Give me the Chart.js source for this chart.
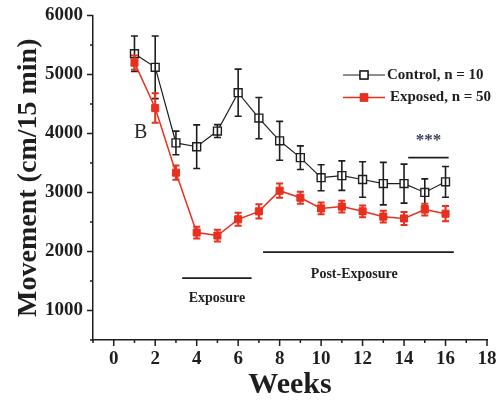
<!DOCTYPE html>
<html>
<head>
<meta charset="utf-8">
<script src="https://cdn.jsdelivr.net/npm/chart.js@4/dist/chart.umd.min.js"></script>
<style>
  html, body { margin: 0; padding: 0; background: #ffffff; }
  #wrap { width: 504px; height: 400px; position: relative; }
</style>
</head>
<body>
<div id="wrap"><canvas id="c" width="504" height="400"></canvas></div>
<script>
// ---- data ----
const weeks = [1, 2, 3, 4, 5, 6, 7, 8, 9, 10, 11, 12, 13, 14, 15, 16];
const controlMean = [5350, 5120, 3840, 3775, 4040, 4690, 4260, 3875, 3590, 3250, 3285, 3220, 3150, 3150, 3000, 3180];
const controlErr  = [300, 530, 200, 370, 110, 400, 350, 330, 200, 220, 250, 300, 360, 330, 230, 260];
const exposedMean = [5200, 4430, 3335, 2320, 2270, 2545, 2680, 3030, 2910, 2730, 2760, 2680, 2590, 2560, 2710, 2640];
const exposedErr  = [120, 250, 120, 100, 100, 110, 120, 120, 100, 100, 100, 100, 100, 110, 100, 130];
const seriesLabels = ['Control, n = 10', 'Exposed, n = 50'];
const xTickLabels = [0, 2, 4, 6, 8, 10, 12, 14, 16, 18];
const yTickLabels = [1000, 2000, 3000, 4000, 5000, 6000];
const xTitle = 'Weeks';
const yTitle = 'Movement (cm/15 min)';
const exposurePeriod = [3.3, 6.65];      // weeks spanned by the "Exposure" bar
const postExposurePeriod = [7.2, 16.4];  // weeks spanned by the "Post-Exposure" bar
const sigPeriod = [14.2, 16.15];         // weeks spanned by the *** bar

const SERIF = '"Liberation Serif", "Times New Roman", serif';
const INK = '#1e1e1e';
const RED = '#e8301f';

function toPoints(xs, ys) { return xs.map((x, i) => ({ x: x, y: ys[i] })); }

// error bars, drawn right after their own dataset
const errorBarPlugin = {
  id: 'errorBars',
  afterDatasetDraw(chart, args) {
    const ds = chart.data.datasets[args.index];
    if (!ds.errors) return;
    const { ctx, scales: { x, y } } = chart;
    ctx.save();
    ctx.strokeStyle = ds.borderColor;
    ctx.lineWidth = ds.errorWidth;
    ds.data.forEach((p, i) => {
      const px = x.getPixelForValue(p.x);
      const yt = y.getPixelForValue(p.y + ds.errors[i]);
      const yb = y.getPixelForValue(p.y - ds.errors[i]);
      const cap = 3.5;
      ctx.beginPath();
      ctx.moveTo(px, yt); ctx.lineTo(px, yb);
      ctx.moveTo(px - cap, yt); ctx.lineTo(px + cap, yt);
      ctx.moveTo(px - cap, yb); ctx.lineTo(px + cap, yb);
      ctx.stroke();
    });
    ctx.restore();
  }
};

// major + minor tick marks on both axes
const tickPlugin = {
  id: 'tickMarks',
  afterDraw(chart) {
    const { ctx, scales: { x, y }, chartArea } = chart;
    ctx.save();
    ctx.strokeStyle = INK;
    ctx.lineWidth = 1.5;
    ctx.beginPath();
    for (let v = -1; v <= 18; v += 1) {
      const px = x.getPixelForValue(v);
      const len = (v % 2 === 0) ? 6 : 3;
      ctx.moveTo(px, chartArea.bottom); ctx.lineTo(px, chartArea.bottom + len);
    }
    for (let v = 500; v <= 6000; v += 500) {
      const py = y.getPixelForValue(v);
      const len = (v % 1000 === 0) ? 6 : 3;
      ctx.moveTo(chartArea.left, py); ctx.lineTo(chartArea.left - len, py);
    }
    ctx.stroke();
    ctx.restore();
  }
};

// annotations: legend, panel letter, period bars and labels
const annotationPlugin = {
  id: 'annotations',
  afterDraw(chart) {
    const { ctx, scales: { x, y } } = chart;
    ctx.save();
    // period bars
    ctx.strokeStyle = INK;
    ctx.lineWidth = 1.8;
    const hbar = (x0, x1, yv) => {
      const py = y.getPixelForValue(yv);
      ctx.beginPath();
      ctx.moveTo(x.getPixelForValue(x0), py);
      ctx.lineTo(x.getPixelForValue(x1), py);
      ctx.stroke();
    };
    hbar(exposurePeriod[0], exposurePeriod[1], 1550);
    hbar(postExposurePeriod[0], postExposurePeriod[1], 1990);
    hbar(sigPeriod[0], sigPeriod[1], 3590);

    ctx.fillStyle = INK;
    ctx.textAlign = 'center';
    ctx.textBaseline = 'middle';
    ctx.font = 'bold 14px ' + SERIF;
    ctx.fillText('Exposure', x.getPixelForValue((exposurePeriod[0] + exposurePeriod[1]) / 2), y.getPixelForValue(1200));
    ctx.fillText('Post-Exposure', x.getPixelForValue(11.6), y.getPixelForValue(1620));
    ctx.fillStyle = '#3b4560';
    ctx.font = 'bold 17px ' + SERIF;
    ctx.fillText('***', x.getPixelForValue((sigPeriod[0] + sigPeriod[1]) / 2), y.getPixelForValue(3880));
    ctx.fillStyle = '#2a2a2a';
    ctx.font = '20px ' + SERIF;
    ctx.fillText('B', x.getPixelForValue(1.3), y.getPixelForValue(4020));

    // legend
    const ds = chart.data.datasets;
    const order = [1, 0];
    const lx0 = 343, lx1 = 385;
    order.forEach((di, row) => {
      const d = ds[di];
      const ly = 75 + row * 22.5;
      ctx.strokeStyle = d.borderColor;
      ctx.lineWidth = d.borderWidth;
      ctx.beginPath(); ctx.moveTo(lx0, ly); ctx.lineTo(lx1, ly); ctx.stroke();
      Chart.helpers.drawPoint(ctx, {
        pointStyle: d.pointStyle, radius: d.pointRadius, borderWidth: d.pointBorderWidth, rotation: 0
      }, (lx0 + lx1) / 2, ly);
      ctx.fillStyle = d.pointBackgroundColor;
      ctx.strokeStyle = d.pointBorderColor;
      ctx.lineWidth = d.pointBorderWidth;
      ctx.fill(); ctx.stroke();
      ctx.fillStyle = INK;
      ctx.font = 'bold 15px ' + SERIF;
      ctx.textAlign = 'left';
      ctx.fillText(d.label, row === 0 ? 387 : 390, ly);
    });
    ctx.restore();
  }
};

const chart = new Chart(document.getElementById('c'), {
  type: 'line',
  data: {
    datasets: [
      {
        label: seriesLabels[1],
        data: toPoints(weeks, exposedMean),
        errors: exposedErr,
        errorWidth: 2,
        borderColor: RED,
        borderWidth: 1.5,
        pointStyle: 'rect',
        pointRadius: 5,
        pointBorderWidth: 1,
        pointBackgroundColor: RED,
        pointBorderColor: RED,
        order: 0
      },
      {
        label: seriesLabels[0],
        data: toPoints(weeks, controlMean),
        errors: controlErr,
        errorWidth: 1.6,
        borderColor: INK,
        borderWidth: 1.2,
        pointStyle: 'rect',
        pointRadius: 5.6,
        pointBorderWidth: 1.4,
        pointBackgroundColor: '#ffffff',
        pointBorderColor: INK,
        order: 1
      }
    ]
  },
  options: {
    responsive: false,
    animation: false,
    devicePixelRatio: 1,
    layout: { padding: { top: 15, right: 17, left: 0, bottom: 0 } },
    plugins: { legend: { display: false }, tooltip: { enabled: false } },
    elements: { line: { tension: 0 } },
    scales: {
      x: {
        type: 'linear',
        min: -1, max: 18,
        afterBuildTicks: (s) => { s.ticks = xTickLabels.map(v => ({ value: v })); },
        afterFit: (s) => { s.height = 60; },
        grid: { display: false, drawTicks: true, tickLength: 6 },
        border: { display: true, color: INK, width: 1.5 },
        ticks: {
          autoSkip: false, maxRotation: 0, padding: 2,
          callback: (v) => String(v),
          color: INK, font: { family: SERIF, size: 19, weight: 'bold' }
        },
        title: {
          display: true, text: xTitle, color: INK,
          padding: { top: 0, bottom: -3 },
          font: { family: SERIF, size: 30, weight: 'bold' }
        }
      },
      y: {
        type: 'linear',
        min: 500, max: 6000,
        afterBuildTicks: (s) => { s.ticks = yTickLabels.map(v => ({ value: v })); },
        afterFit: (s) => { s.width = 93; },
        grid: { display: false, drawTicks: true, tickLength: 6 },
        border: { display: true, color: INK, width: 1.5 },
        ticks: {
          padding: 4, color: INK,
          callback: (v) => String(v),
          font: { family: SERIF, size: 19, weight: 'bold' }
        },
        title: {
          display: true, text: yTitle, color: INK,
          padding: { top: 12, bottom: 0 },
          font: { family: SERIF, size: 28, weight: 'bold' }
        }
      }
    }
  },
  plugins: [errorBarPlugin, tickPlugin, annotationPlugin]
});
</script>
</body>
</html>
